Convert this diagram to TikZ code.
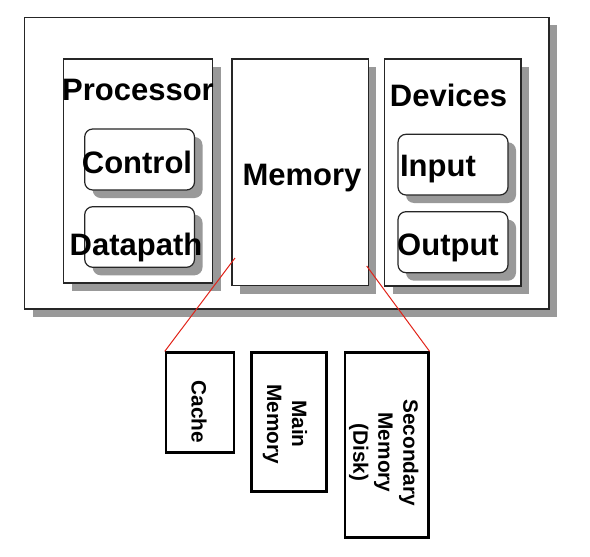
\documentclass[tikz,border=0pt]{standalone}
\usepackage{fontspec}
\setmainfont{Liberation Sans}
\usetikzlibrary{shadows}
\definecolor{shadowgray}{RGB}{153,153,153}
\definecolor{linkred}{RGB}{225,35,25}

\begin{document}
\begin{tikzpicture}[x=0.5pt,y=-0.5pt,
    unit/.style={draw=black!85,line width=0.6pt,fill=white,inner sep=0pt,
      drop shadow={shadow xshift=4pt,shadow yshift=-4pt,fill=shadowgray,opacity=1}},
    part/.style={unit,rounded corners=4pt},
    level/.style={draw=black,line width=1.3pt,fill=white,inner sep=0pt},
    big/.style={font=\fontsize{15.5}{18}\selectfont\bfseries,anchor=base},
    small/.style={font=\fontsize{10.4}{12.5}\selectfont\bfseries,rotate=-90,align=center}]

    \useasboundingbox (0,0) rectangle (590,557);

    % the computer and its three parts
    \node[unit,minimum width=262.25pt,minimum height=145.85pt] (computer) at (286.75,163.15) {};
    \node[unit,minimum width=74.55pt,minimum height=112pt] (processor) at (138.15,171) {};
    \node[unit,minimum width=68.2pt,minimum height=113.35pt] (memory) at (300.2,172.35) {};
    \node[unit,minimum width=68.15pt,minimum height=113.5pt] (devices) at (452.85,172.5) {};

    \node[part,minimum width=54.9pt,minimum height=30.5pt] (control) at (139.6,159.5) {};
    \node[part,minimum width=54.9pt,minimum height=30.3pt] (datapath) at (139.6,237) {};
    \node[part,minimum width=55pt,minimum height=30.35pt] (input) at (453,164.65) {};
    \node[part,minimum width=55pt,minimum height=30.5pt] (output) at (453,242.2) {};

    \node[big] (processortext) at (138,100) {Processor};
    \node[big] (controltext) at (137,173.3) {Control};
    \node[big] (datapathtext) at (136,255) {Datapath};
    \node[big] (memorytext) at (302,185) {Memory};
    \node[big] (devicestext) at (448.5,106.7) {Devices};
    \node[big] (inputtext) at (438,176.7) {Input};
    \node[big] (outputtext) at (448,255.7) {Output};

    % memory levels
    \node[level,minimum width=34pt,minimum height=49.8pt] (cache) at (200,402.5) {};
    \node[level,minimum width=37.5pt,minimum height=69.5pt] (mainmem) at (289.2,422.2) {};
    \node[level,minimum width=41.65pt,minimum height=92.5pt] (disk) at (386.65,445.2) {};

    \node[small] (cachetext) at (199,411.7) {Cache};
    \node[small] (mainmemtext) at (285,424) {Main\\Memory};
    \node[small] (disktext) at (383.7,452.5) {Secondary\\Memory\\(Disk)};

    \coordinate (memleft) at (235,258);
    \coordinate (memright) at (366.7,266);
    \draw[linkred,line width=0.5pt] (memleft) -- (cache.north west);
    \draw[linkred,line width=0.5pt] (memright) -- (disk.north east);
\end{tikzpicture}
\end{document}
